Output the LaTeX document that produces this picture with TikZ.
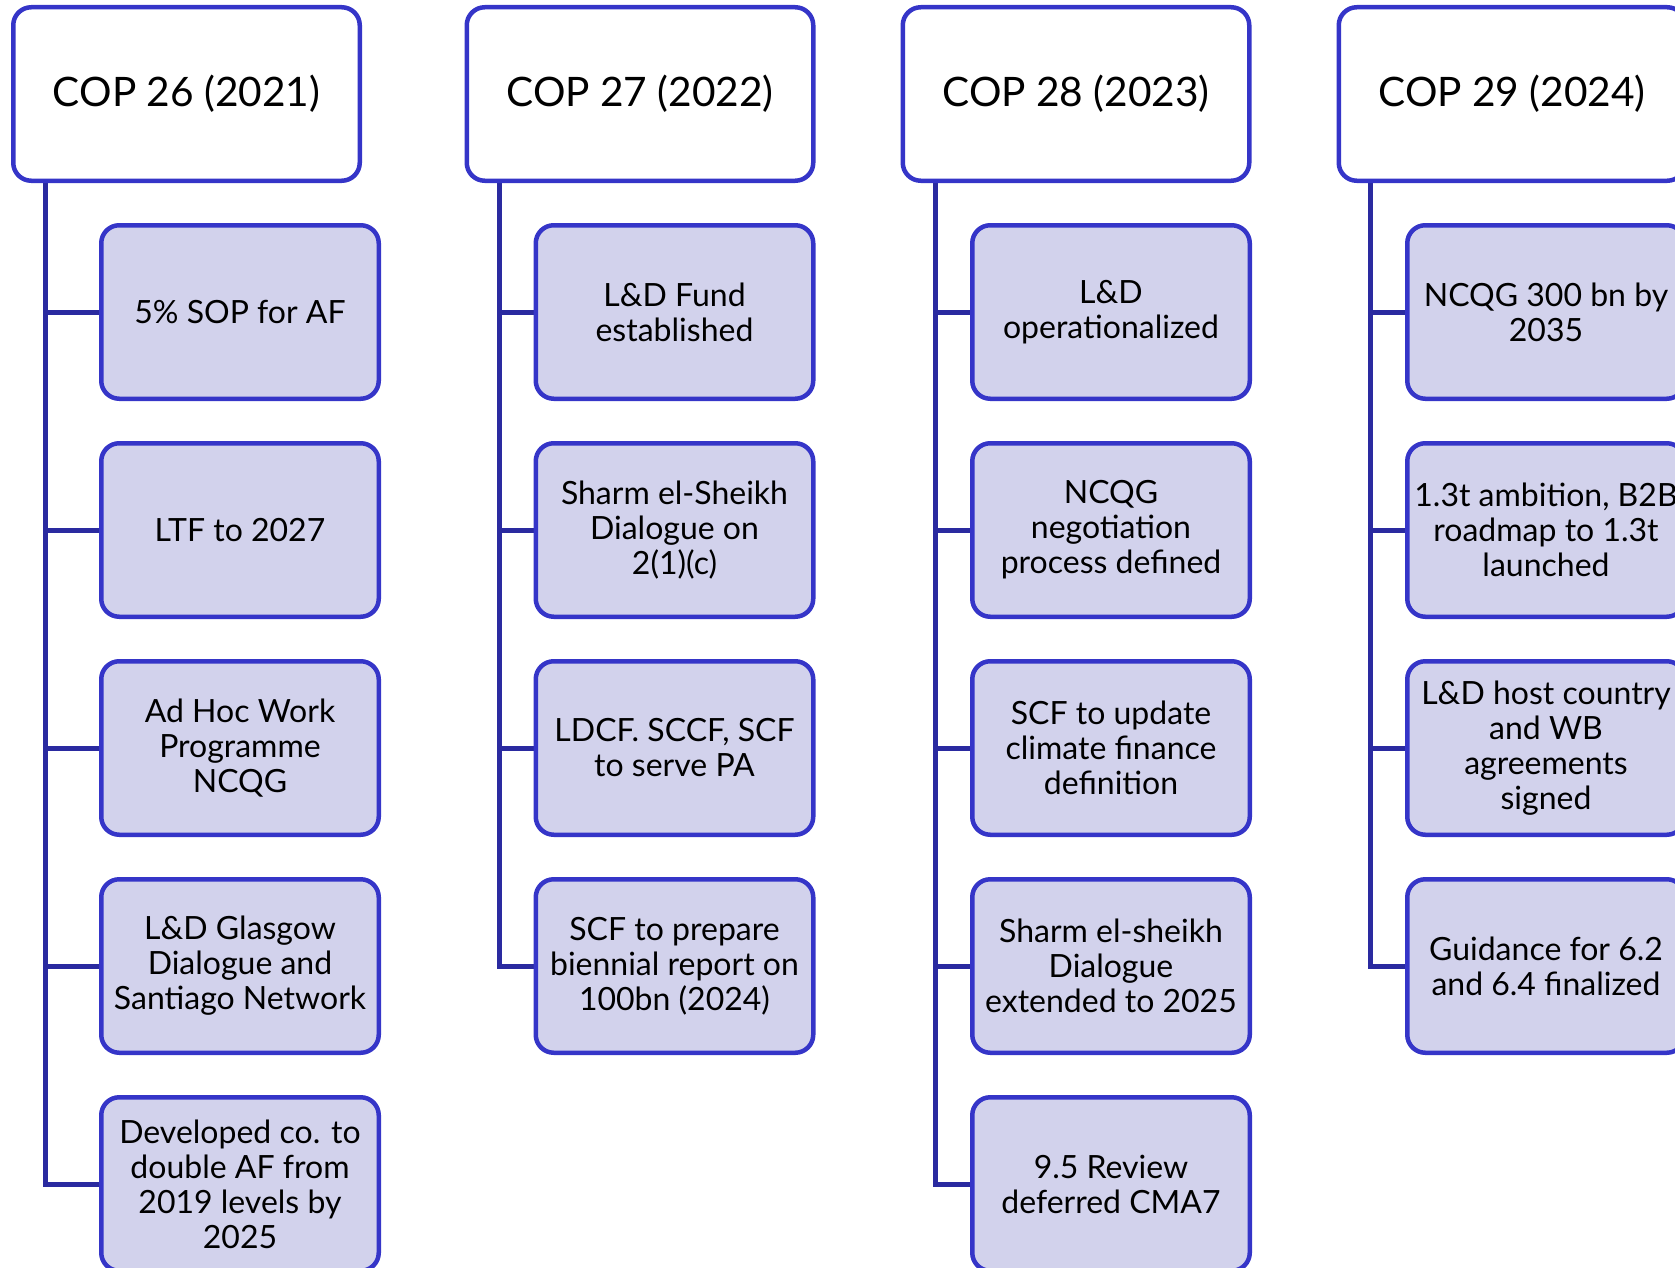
\documentclass[tikz,border=0pt]{standalone}
\usepackage{fontspec}
\setmainfont{Lato}
\usetikzlibrary{backgrounds}
\definecolor{bordc}{RGB}{53,53,200}
\definecolor{trunkc}{RGB}{42,42,160}
\definecolor{itemfill}{RGB}{210,210,236}
\begin{document}
\begin{tikzpicture}[x=0.5pt,y=-0.5pt,
  hdr/.style={draw=bordc, line width=2.25pt, rounded corners=9pt, fill=white,
    minimum width=173.25pt, minimum height=86.75pt, inner sep=0pt, align=center,
    font=\fontsize{20.3}{24}\selectfont},
  item/.style={draw=bordc, line width=2.25pt, rounded corners=9pt, fill=itemfill,
    minimum width=138.75pt, minimum height=86.75pt, inner sep=0pt, align=center,
    font=\fontsize{16}{17.5}\selectfont},
  trunk/.style={draw=trunkc, line width=2.5pt}]
\useasboundingbox (0,0) rectangle (1675,1268);

% headers
\node[hdr] (h1) at (186.5,94) {COP 26 (2021)};
\node[hdr] (h2) at (640,94) {COP 27 (2022)};
\node[hdr] (h3) at (1076,94) {COP 28 (2023)};
\node[hdr] (h4) at (1512,94) {COP 29 (2024)};

% column 1
\node[item] (c11) at (240,312) {5\% SOP for AF};
\node[item] (c12) at (240,530) {LTF to 2027};
\node[item] (c13) at (240,748) {Ad Hoc Work\\Programme\\NCQG};
\node[item] (c14) at (240,966) {L\&D Glasgow\\Dialogue and\\Santiago Network};
\node[item] (c15) at (240,1184) {Developed co. to\\double AF from\\2019 levels by\\2025};

% column 2
\node[item] (c21) at (674.5,312) {L\&D Fund\\established};
\node[item] (c22) at (674.5,530) {Sharm el-Sheikh\\Dialogue on\\2(1)(c)};
\node[item] (c23) at (674.5,748) {LDCF. SCCF, SCF\\to serve PA};
\node[item] (c24) at (674.5,966) {SCF to prepare\\biennial report on\\100bn (2024)};

% column 3
\node[item] (c31) at (1111,312) {L\&D\\operationalized};
\node[item] (c32) at (1111,530) {NCQG\\negotiation\\process defined};
\node[item] (c33) at (1111,748) {SCF to update\\climate finance\\definition};
\node[item] (c34) at (1111,966) {Sharm el-sheikh\\Dialogue\\extended to 2025};
\node[item] (c35) at (1111,1184) {9.5 Review\\deferred CMA7};

% column 4
\node[item] (c41) at (1546,312) {NCQG 300 bn by\\2035};
\node[item] (c42) at (1546,530) {1.3t ambition, B2B\\roadmap to 1.3t\\launched};
\node[item] (c43) at (1546,748) {L\&D host country\\and WB\\agreements\\signed};
\node[item] (c44) at (1546,966) {Guidance for 6.2\\and 6.4 finalized};

% trunk tops
\coordinate (t1) at ([xshift=17pt]h1.south west);
\coordinate (t2) at ([xshift=17.4pt]h2.south west);
\coordinate (t3) at ([xshift=17.4pt]h3.south west);
\coordinate (t4) at ([xshift=17pt]h4.south west);

\begin{scope}[on background layer]
  \draw[trunk] (t1) |- (c15.west);
  \foreach \i in {1,...,4} \draw[trunk] (t1 |- c1\i.west) -- (c1\i.west);
  \draw[trunk] (t2) |- (c24.west);
  \foreach \i in {1,...,3} \draw[trunk] (t2 |- c2\i.west) -- (c2\i.west);
  \draw[trunk] (t3) |- (c35.west);
  \foreach \i in {1,...,4} \draw[trunk] (t3 |- c3\i.west) -- (c3\i.west);
  \draw[trunk] (t4) |- (c44.west);
  \foreach \i in {1,...,3} \draw[trunk] (t4 |- c4\i.west) -- (c4\i.west);
\end{scope}
\end{tikzpicture}
\end{document}
